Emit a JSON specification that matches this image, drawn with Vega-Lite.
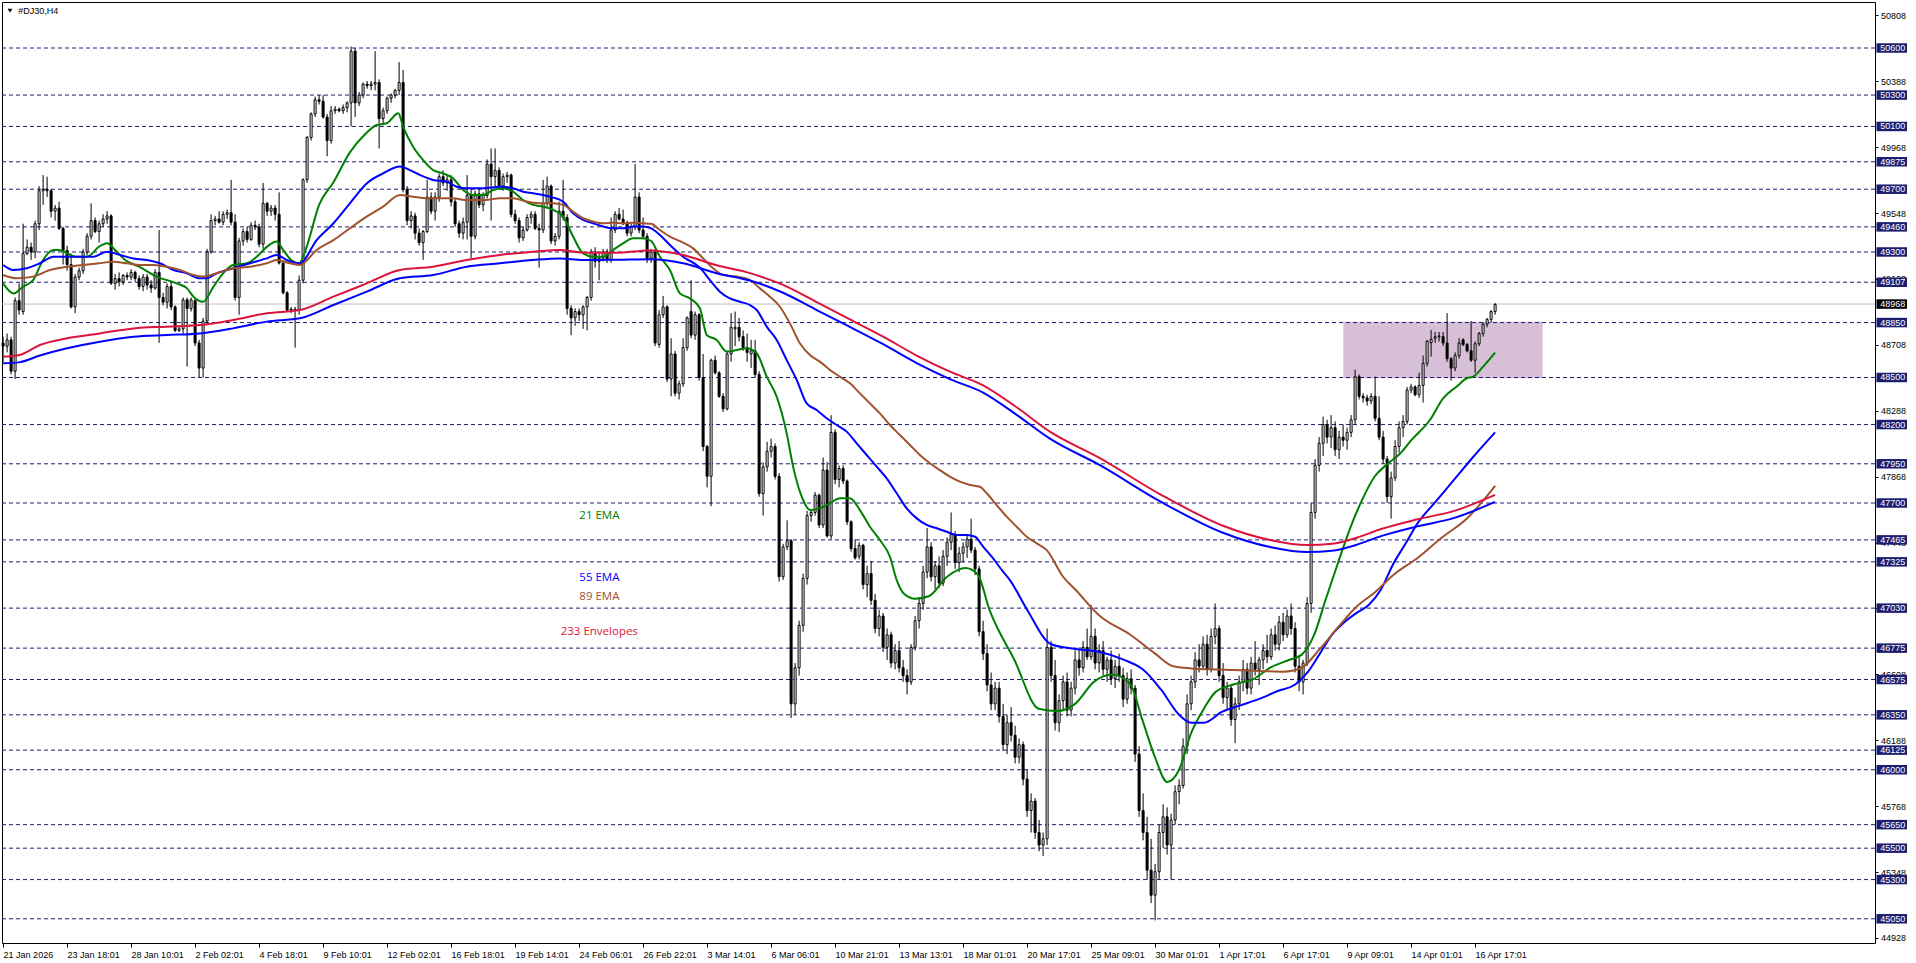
{
"$schema": "https://vega.github.io/schema/vega-lite/v6.json",
"autosize": {"type": "none"},
"padding": {"left": 2, "top": 2, "right": 41, "bottom": 20},
"width": 1873,
"height": 941,
"background": "white",
"config": {"view": {"stroke": "black", "strokeWidth": 1}, "font": "Liberation Sans"},
"datasets": {
"candles": [
{"i":0,"o":48720,"h":48760,"l":48600,"c":48700},{"i":1,"o":48700,"h":48780,"l":48660,"c":48740},{"i":2,"o":48740,"h":48760,"l":48520,"c":48540},{"i":3,"o":48540,"h":49010,"l":48490,"c":48990},{"i":4,"o":48990,"h":49100,"l":48900,"c":48930},{"i":5,"o":48920,"h":49480,"l":48900,"c":49290},{"i":6,"o":49290,"h":49380,"l":49280,"c":49330},{"i":7,"o":49330,"h":49360,"l":49250,"c":49300},{"i":8,"o":49300,"h":49500,"l":49260,"c":49480},{"i":9,"o":49480,"h":49720,"l":49440,"c":49690},
{"i":10,"o":49690,"h":49790,"l":49600,"c":49700},{"i":11,"o":49700,"h":49780,"l":49650,"c":49690},{"i":12,"o":49690,"h":49700,"l":49520,"c":49560},{"i":13,"o":49560,"h":49600,"l":49500,"c":49580},{"i":14,"o":49580,"h":49620,"l":49440,"c":49450},{"i":15,"o":49450,"h":49460,"l":49220,"c":49310},{"i":16,"o":49310,"h":49340,"l":49180,"c":49220},{"i":17,"o":49220,"h":49290,"l":48940,"c":48950},{"i":18,"o":48950,"h":49160,"l":48910,"c":49140},{"i":19,"o":49140,"h":49200,"l":49120,"c":49180},
{"i":20,"o":49180,"h":49320,"l":49160,"c":49300},{"i":21,"o":49300,"h":49420,"l":49280,"c":49400},{"i":22,"o":49400,"h":49610,"l":49380,"c":49500},{"i":23,"o":49500,"h":49520,"l":49420,"c":49430},{"i":24,"o":49430,"h":49500,"l":49360,"c":49480},{"i":25,"o":49480,"h":49540,"l":49460,"c":49510},{"i":26,"o":49510,"h":49560,"l":49480,"c":49530},{"i":27,"o":49530,"h":49540,"l":49090,"c":49100},{"i":28,"o":49100,"h":49160,"l":49060,"c":49130},{"i":29,"o":49130,"h":49170,"l":49080,"c":49110},
{"i":30,"o":49110,"h":49160,"l":49090,"c":49150},{"i":31,"o":49150,"h":49170,"l":49120,"c":49140},{"i":32,"o":49140,"h":49190,"l":49120,"c":49170},{"i":33,"o":49170,"h":49180,"l":49110,"c":49130},{"i":34,"o":49130,"h":49150,"l":49060,"c":49080},{"i":35,"o":49080,"h":49160,"l":49050,"c":49140},{"i":36,"o":49140,"h":49160,"l":49060,"c":49090},{"i":37,"o":49090,"h":49120,"l":49040,"c":49070},{"i":38,"o":49070,"h":49190,"l":49060,"c":49170},{"i":39,"o":49170,"h":49440,"l":48720,"c":49010},
{"i":40,"o":49010,"h":49040,"l":48960,"c":48980},{"i":41,"o":48980,"h":49100,"l":48940,"c":49080},{"i":42,"o":49080,"h":49110,"l":48930,"c":48950},{"i":43,"o":48950,"h":48960,"l":48790,"c":48800},{"i":44,"o":48800,"h":48830,"l":48790,"c":48810},{"i":45,"o":48810,"h":49010,"l":48780,"c":48995},{"i":46,"o":48995,"h":49010,"l":48570,"c":48940},{"i":47,"o":48940,"h":49010,"l":48920,"c":48995},{"i":48,"o":48990,"h":49000,"l":48700,"c":48720},{"i":49,"o":48720,"h":48740,"l":48500,"c":48560},
{"i":50,"o":48560,"h":48880,"l":48500,"c":48860},{"i":51,"o":48860,"h":49320,"l":48840,"c":49300},{"i":52,"o":49300,"h":49540,"l":49290,"c":49500},{"i":53,"o":49500,"h":49530,"l":49470,"c":49510},{"i":54,"o":49510,"h":49560,"l":49480,"c":49490},{"i":55,"o":49490,"h":49560,"l":49470,"c":49540},{"i":56,"o":49540,"h":49570,"l":49510,"c":49550},{"i":57,"o":49550,"h":49760,"l":49470,"c":49490},{"i":58,"o":49490,"h":49540,"l":48990,"c":49010},{"i":59,"o":49010,"h":49390,"l":48900,"c":49370},
{"i":60,"o":49370,"h":49450,"l":49340,"c":49430},{"i":61,"o":49430,"h":49460,"l":49360,"c":49380},{"i":62,"o":49380,"h":49490,"l":49370,"c":49470},{"i":63,"o":49470,"h":49500,"l":49440,"c":49460},{"i":64,"o":49460,"h":49480,"l":49330,"c":49350},{"i":65,"o":49350,"h":49740,"l":49320,"c":49610},{"i":66,"o":49610,"h":49620,"l":49530,"c":49560},{"i":67,"o":49560,"h":49600,"l":49530,"c":49580},{"i":68,"o":49580,"h":49600,"l":49500,"c":49540},{"i":69,"o":49540,"h":49680,"l":49220,"c":49230},
{"i":70,"o":49230,"h":49240,"l":49030,"c":49040},{"i":71,"o":49040,"h":49050,"l":48920,"c":48930},{"i":72,"o":48930,"h":48950,"l":48910,"c":48935},{"i":73,"o":48935,"h":48950,"l":48690,"c":48930},{"i":74,"o":48930,"h":49150,"l":48900,"c":49120},{"i":75,"o":49120,"h":49770,"l":49100,"c":49760},{"i":76,"o":49760,"h":50040,"l":49740,"c":50030},{"i":77,"o":50030,"h":50190,"l":50010,"c":50180},{"i":78,"o":50180,"h":50290,"l":50160,"c":50270},{"i":79,"o":50270,"h":50300,"l":50240,"c":50260},
{"i":80,"o":50260,"h":50300,"l":50150,"c":50160},{"i":81,"o":50160,"h":50180,"l":49910,"c":50010},{"i":82,"o":50010,"h":50230,"l":49990,"c":50200},{"i":83,"o":50200,"h":50230,"l":50180,"c":50210},{"i":84,"o":50210,"h":50220,"l":50190,"c":50200},{"i":85,"o":50200,"h":50240,"l":50180,"c":50220},{"i":86,"o":50220,"h":50260,"l":50190,"c":50250},{"i":87,"o":50250,"h":50610,"l":50100,"c":50580},{"i":88,"o":50580,"h":50600,"l":50160,"c":50250},{"i":89,"o":50250,"h":50320,"l":50230,"c":50300},
{"i":90,"o":50300,"h":50380,"l":50280,"c":50370},{"i":91,"o":50370,"h":50390,"l":50340,"c":50360},{"i":92,"o":50360,"h":50390,"l":50330,"c":50370},{"i":93,"o":50370,"h":50580,"l":50330,"c":50380},{"i":94,"o":50380,"h":50400,"l":49960,"c":50150},{"i":95,"o":50150,"h":50220,"l":50120,"c":50200},{"i":96,"o":50200,"h":50290,"l":50180,"c":50280},{"i":97,"o":50280,"h":50310,"l":50250,"c":50300},{"i":98,"o":50300,"h":50340,"l":50280,"c":50330},{"i":99,"o":50330,"h":50510,"l":50300,"c":50380},
{"i":100,"o":50380,"h":50460,"l":49680,"c":49700},{"i":101,"o":49700,"h":49720,"l":49470,"c":49500},{"i":102,"o":49500,"h":49560,"l":49450,"c":49530},{"i":103,"o":49530,"h":49550,"l":49380,"c":49420},{"i":104,"o":49420,"h":49450,"l":49340,"c":49360},{"i":105,"o":49360,"h":49440,"l":49250,"c":49430},{"i":106,"o":49430,"h":49760,"l":49420,"c":49650},{"i":107,"o":49650,"h":49680,"l":49540,"c":49560},{"i":108,"o":49560,"h":49680,"l":49500,"c":49650},{"i":109,"o":49650,"h":49800,"l":49620,"c":49780},
{"i":110,"o":49780,"h":49820,"l":49720,"c":49740},{"i":111,"o":49740,"h":49790,"l":49690,"c":49760},{"i":112,"o":49760,"h":49790,"l":49590,"c":49620},{"i":113,"o":49620,"h":49640,"l":49460,"c":49480},{"i":114,"o":49480,"h":49500,"l":49390,"c":49420},{"i":115,"o":49420,"h":49520,"l":49380,"c":49490},{"i":116,"o":49490,"h":49790,"l":49380,"c":49660},{"i":117,"o":49660,"h":49700,"l":49260,"c":49400},{"i":118,"o":49400,"h":49690,"l":49380,"c":49670},{"i":119,"o":49670,"h":49700,"l":49580,"c":49600},
{"i":120,"o":49600,"h":49680,"l":49560,"c":49660},{"i":121,"o":49660,"h":49890,"l":49640,"c":49860},{"i":122,"o":49860,"h":49960,"l":49500,"c":49780},{"i":123,"o":49780,"h":49960,"l":49720,"c":49820},{"i":124,"o":49820,"h":49840,"l":49700,"c":49720},{"i":125,"o":49720,"h":49800,"l":49690,"c":49780},{"i":126,"o":49780,"h":49810,"l":49740,"c":49790},{"i":127,"o":49790,"h":49800,"l":49520,"c":49540},{"i":128,"o":49540,"h":49570,"l":49480,"c":49500},{"i":129,"o":49500,"h":49520,"l":49360,"c":49390},
{"i":130,"o":49390,"h":49460,"l":49370,"c":49440},{"i":131,"o":49440,"h":49540,"l":49430,"c":49520},{"i":132,"o":49520,"h":49560,"l":49480,"c":49540},{"i":133,"o":49540,"h":49560,"l":49440,"c":49450},{"i":134,"o":49450,"h":49480,"l":49200,"c":49440},{"i":135,"o":49440,"h":49760,"l":49420,"c":49610},{"i":136,"o":49610,"h":49780,"l":49590,"c":49720},{"i":137,"o":49720,"h":49730,"l":49350,"c":49370},{"i":138,"o":49370,"h":49420,"l":49340,"c":49400},{"i":139,"o":49400,"h":49620,"l":49380,"c":49560},
{"i":140,"o":49560,"h":49760,"l":49500,"c":49520},{"i":141,"o":49520,"h":49540,"l":48900,"c":48940},{"i":142,"o":48940,"h":48960,"l":48770,"c":48880},{"i":143,"o":48880,"h":48940,"l":48830,"c":48920},{"i":144,"o":48920,"h":48940,"l":48860,"c":48900},{"i":145,"o":48900,"h":48960,"l":48810,"c":48950},{"i":146,"o":48950,"h":49020,"l":48800,"c":49010},{"i":147,"o":49010,"h":49320,"l":48990,"c":49300},{"i":148,"o":49300,"h":49330,"l":49200,"c":49240},{"i":149,"o":49240,"h":49290,"l":49120,"c":49260},
{"i":150,"o":49260,"h":49320,"l":49240,"c":49300},{"i":151,"o":49300,"h":49320,"l":49230,"c":49250},{"i":152,"o":49250,"h":49520,"l":49230,"c":49440},{"i":153,"o":49440,"h":49560,"l":49420,"c":49540},{"i":154,"o":49540,"h":49580,"l":49500,"c":49510},{"i":155,"o":49510,"h":49570,"l":49470,"c":49480},{"i":156,"o":49480,"h":49500,"l":49400,"c":49420},{"i":157,"o":49420,"h":49480,"l":49400,"c":49460},{"i":158,"o":49460,"h":49860,"l":49440,"c":49650},{"i":159,"o":49650,"h":49680,"l":49420,"c":49440},
{"i":160,"o":49440,"h":49520,"l":49380,"c":49400},{"i":161,"o":49400,"h":49420,"l":49230,"c":49260},{"i":162,"o":49260,"h":49320,"l":49230,"c":49300},{"i":163,"o":49300,"h":49320,"l":48700,"c":48720},{"i":164,"o":48710,"h":48930,"l":48690,"c":48900},{"i":165,"o":48900,"h":49020,"l":48880,"c":48950},{"i":166,"o":48950,"h":48960,"l":48470,"c":48490},{"i":167,"o":48490,"h":48750,"l":48380,"c":48650},{"i":168,"o":48650,"h":48670,"l":48380,"c":48400},{"i":169,"o":48400,"h":48480,"l":48360,"c":48460},
{"i":170,"o":48460,"h":48750,"l":48440,"c":48690},{"i":171,"o":48690,"h":48890,"l":48670,"c":48880},{"i":172,"o":48920,"h":49120,"l":48750,"c":48770},{"i":173,"o":48770,"h":48920,"l":48740,"c":48900},{"i":174,"o":48900,"h":48910,"l":48480,"c":48500},{"i":175,"o":48500,"h":48650,"l":48030,"c":48060},{"i":176,"o":48060,"h":48070,"l":47800,"c":47870},{"i":177,"o":47870,"h":48620,"l":47680,"c":48610},{"i":178,"o":48610,"h":48640,"l":48520,"c":48530},{"i":179,"o":48530,"h":48540,"l":48370,"c":48380},
{"i":180,"o":48380,"h":48400,"l":48280,"c":48300},{"i":181,"o":48300,"h":48670,"l":48290,"c":48650},{"i":182,"o":48650,"h":48910,"l":48600,"c":48820},{"i":183,"o":48810,"h":48920,"l":48700,"c":48820},{"i":184,"o":48820,"h":48880,"l":48730,"c":48760},{"i":185,"o":48760,"h":48800,"l":48670,"c":48690},{"i":186,"o":48690,"h":48780,"l":48600,"c":48660},{"i":187,"o":48650,"h":48740,"l":48560,"c":48670},{"i":188,"o":48670,"h":48740,"l":48500,"c":48520},{"i":189,"o":48520,"h":48540,"l":47740,"c":47760},
{"i":190,"o":47760,"h":47960,"l":47620,"c":47930},{"i":191,"o":47930,"h":48090,"l":47900,"c":48030},{"i":192,"o":48030,"h":48110,"l":47990,"c":48060},{"i":193,"o":48060,"h":48080,"l":47850,"c":47870},{"i":194,"o":47870,"h":47890,"l":47200,"c":47230},{"i":195,"o":47230,"h":47440,"l":47210,"c":47420},{"i":196,"o":47420,"h":47590,"l":47400,"c":47460},{"i":197,"o":47460,"h":47470,"l":46330,"c":46420},{"i":198,"o":46420,"h":46680,"l":46350,"c":46650},{"i":199,"o":46650,"h":46950,"l":46600,"c":46920},
{"i":200,"o":46920,"h":47250,"l":46880,"c":47220},{"i":201,"o":47220,"h":47650,"l":47180,"c":47620},{"i":202,"o":47620,"h":47660,"l":47580,"c":47640},{"i":203,"o":47640,"h":47770,"l":47620,"c":47750},{"i":204,"o":47750,"h":47760,"l":47540,"c":47560},{"i":205,"o":47560,"h":47990,"l":47540,"c":47910},{"i":206,"o":47910,"h":47960,"l":47480,"c":47490},{"i":207,"o":47490,"h":48260,"l":47470,"c":48150},{"i":208,"o":48150,"h":48170,"l":47820,"c":47850},{"i":209,"o":47850,"h":47940,"l":47800,"c":47920},
{"i":210,"o":47920,"h":47940,"l":47820,"c":47840},{"i":211,"o":47840,"h":47850,"l":47560,"c":47580},{"i":212,"o":47580,"h":47590,"l":47390,"c":47410},{"i":213,"o":47410,"h":47470,"l":47340,"c":47350},{"i":214,"o":47360,"h":47450,"l":47340,"c":47430},{"i":215,"o":47430,"h":47440,"l":47150,"c":47180},{"i":216,"o":47180,"h":47300,"l":47100,"c":47250},{"i":217,"o":47250,"h":47330,"l":47050,"c":47080},{"i":218,"o":47080,"h":47120,"l":46870,"c":46900},{"i":219,"o":46900,"h":47020,"l":46850,"c":46980},
{"i":220,"o":46980,"h":47000,"l":46750,"c":46780},{"i":221,"o":46780,"h":46900,"l":46700,"c":46860},{"i":222,"o":46860,"h":46880,"l":46650,"c":46680},{"i":223,"o":46680,"h":46800,"l":46640,"c":46760},{"i":224,"o":46760,"h":46820,"l":46620,"c":46650},{"i":225,"o":46650,"h":46700,"l":46560,"c":46600},{"i":226,"o":46600,"h":46640,"l":46480,"c":46560},{"i":227,"o":46560,"h":46800,"l":46540,"c":46780},{"i":228,"o":46780,"h":46980,"l":46760,"c":46950},{"i":229,"o":46950,"h":47100,"l":46900,"c":47060},
{"i":230,"o":47060,"h":47300,"l":47020,"c":47260},{"i":231,"o":47260,"h":47540,"l":47220,"c":47420},{"i":232,"o":47420,"h":47450,"l":47200,"c":47230},{"i":233,"o":47230,"h":47330,"l":47150,"c":47300},{"i":234,"o":47300,"h":47360,"l":47160,"c":47190},{"i":235,"o":47190,"h":47400,"l":47170,"c":47360},{"i":236,"o":47360,"h":47480,"l":47300,"c":47450},{"i":237,"o":47450,"h":47640,"l":47400,"c":47500},{"i":238,"o":47500,"h":47520,"l":47280,"c":47320},{"i":239,"o":47320,"h":47420,"l":47260,"c":47380},
{"i":240,"o":47380,"h":47450,"l":47320,"c":47420},{"i":241,"o":47420,"h":47500,"l":47350,"c":47470},{"i":242,"o":47470,"h":47600,"l":47380,"c":47400},{"i":243,"o":47400,"h":47420,"l":47240,"c":47280},{"i":244,"o":47280,"h":47300,"l":46850,"c":46880},{"i":245,"o":46880,"h":46950,"l":46700,"c":46740},{"i":246,"o":46740,"h":46800,"l":46500,"c":46540},{"i":247,"o":46540,"h":46620,"l":46380,"c":46420},{"i":248,"o":46420,"h":46560,"l":46380,"c":46520},{"i":249,"o":46520,"h":46560,"l":46300,"c":46340},
{"i":250,"o":46340,"h":46420,"l":46120,"c":46160},{"i":251,"o":46160,"h":46350,"l":46100,"c":46300},{"i":252,"o":46300,"h":46400,"l":46180,"c":46220},{"i":253,"o":46220,"h":46280,"l":46040,"c":46080},{"i":254,"o":46080,"h":46200,"l":46040,"c":46160},{"i":255,"o":46160,"h":46180,"l":45900,"c":45940},{"i":256,"o":45940,"h":46000,"l":45700,"c":45740},{"i":257,"o":45740,"h":45850,"l":45600,"c":45800},{"i":258,"o":45800,"h":45820,"l":45560,"c":45600},{"i":259,"o":45600,"h":45680,"l":45480,"c":45520},
{"i":260,"o":45520,"h":45600,"l":45450,"c":45560},{"i":261,"o":45560,"h":46900,"l":45520,"c":46780},{"i":262,"o":46780,"h":46820,"l":46560,"c":46600},{"i":263,"o":46600,"h":46700,"l":46250,"c":46300},{"i":264,"o":46300,"h":46480,"l":46240,"c":46440},{"i":265,"o":46440,"h":46600,"l":46380,"c":46560},{"i":266,"o":46560,"h":46620,"l":46340,"c":46380},{"i":267,"o":46380,"h":46560,"l":46340,"c":46520},{"i":268,"o":46520,"h":46760,"l":46480,"c":46700},{"i":269,"o":46700,"h":46780,"l":46600,"c":46650},
{"i":270,"o":46650,"h":46820,"l":46620,"c":46780},{"i":271,"o":46780,"h":46900,"l":46700,"c":46720},{"i":272,"o":46720,"h":47050,"l":46700,"c":46850},{"i":273,"o":46850,"h":46900,"l":46640,"c":46680},{"i":274,"o":46680,"h":46800,"l":46620,"c":46760},{"i":275,"o":46760,"h":46820,"l":46600,"c":46640},{"i":276,"o":46640,"h":46720,"l":46560,"c":46700},{"i":277,"o":46700,"h":46760,"l":46540,"c":46580},{"i":278,"o":46580,"h":46700,"l":46520,"c":46660},{"i":279,"o":46660,"h":46740,"l":46560,"c":46600},
{"i":280,"o":46600,"h":46650,"l":46400,"c":46450},{"i":281,"o":46450,"h":46620,"l":46420,"c":46580},{"i":282,"o":46580,"h":46640,"l":46480,"c":46520},{"i":283,"o":46520,"h":46540,"l":46050,"c":46100},{"i":284,"o":46100,"h":46150,"l":45700,"c":45740},{"i":285,"o":45740,"h":45850,"l":45550,"c":45600},{"i":286,"o":45600,"h":45700,"l":45300,"c":45360},{"i":287,"o":45360,"h":45560,"l":45150,"c":45200},{"i":288,"o":45200,"h":45400,"l":45040,"c":45350},{"i":289,"o":45350,"h":45650,"l":45300,"c":45600},
{"i":290,"o":45600,"h":45780,"l":45500,"c":45700},{"i":291,"o":45700,"h":45760,"l":45460,"c":45520},{"i":292,"o":45520,"h":45720,"l":45300,"c":45680},{"i":293,"o":45680,"h":45900,"l":45650,"c":45860},{"i":294,"o":45860,"h":45940,"l":45780,"c":45900},{"i":295,"o":45900,"h":46200,"l":45880,"c":46150},{"i":296,"o":46150,"h":46480,"l":46100,"c":46420},{"i":297,"o":46420,"h":46600,"l":46380,"c":46560},{"i":298,"o":46560,"h":46750,"l":46520,"c":46700},{"i":299,"o":46700,"h":46800,"l":46620,"c":46660},
{"i":300,"o":46660,"h":46850,"l":46640,"c":46800},{"i":301,"o":46800,"h":46860,"l":46600,"c":46640},{"i":302,"o":46640,"h":46900,"l":46620,"c":46850},{"i":303,"o":46850,"h":47060,"l":46800,"c":46900},{"i":304,"o":46900,"h":46920,"l":46560,"c":46600},{"i":305,"o":46600,"h":46680,"l":46420,"c":46460},{"i":306,"o":46460,"h":46560,"l":46380,"c":46520},{"i":307,"o":46520,"h":46540,"l":46280,"c":46320},{"i":308,"o":46320,"h":46460,"l":46170,"c":46420},{"i":309,"o":46420,"h":46600,"l":46380,"c":46560},
{"i":310,"o":46560,"h":46700,"l":46500,"c":46640},{"i":311,"o":46640,"h":46680,"l":46480,"c":46520},{"i":312,"o":46520,"h":46720,"l":46480,"c":46680},{"i":313,"o":46680,"h":46820,"l":46600,"c":46640},{"i":314,"o":46640,"h":46720,"l":46540,"c":46700},{"i":315,"o":46700,"h":46800,"l":46640,"c":46760},{"i":316,"o":46760,"h":46860,"l":46680,"c":46720},{"i":317,"o":46720,"h":46900,"l":46700,"c":46860},{"i":318,"o":46860,"h":46920,"l":46760,"c":46800},{"i":319,"o":46800,"h":46980,"l":46760,"c":46940},
{"i":320,"o":46940,"h":47000,"l":46820,"c":46860},{"i":321,"o":46860,"h":47020,"l":46840,"c":46980},{"i":322,"o":46980,"h":47060,"l":46860,"c":46900},{"i":323,"o":46900,"h":46940,"l":46620,"c":46660},{"i":324,"o":46660,"h":46720,"l":46500,"c":46560},{"i":325,"o":46560,"h":46700,"l":46480,"c":46680},{"i":326,"o":46680,"h":47100,"l":46660,"c":47060},{"i":327,"o":47060,"h":47700,"l":47000,"c":47640},{"i":328,"o":47640,"h":47980,"l":47600,"c":47940},{"i":329,"o":47940,"h":48120,"l":47900,"c":48080},
{"i":330,"o":48080,"h":48250,"l":48000,"c":48200},{"i":331,"o":48200,"h":48230,"l":48080,"c":48120},{"i":332,"o":48120,"h":48260,"l":48050,"c":48180},{"i":333,"o":48180,"h":48220,"l":48000,"c":48040},{"i":334,"o":48040,"h":48160,"l":47980,"c":48120},{"i":335,"o":48120,"h":48200,"l":48060,"c":48100},{"i":336,"o":48100,"h":48180,"l":48040,"c":48150},{"i":337,"o":48150,"h":48260,"l":48120,"c":48230},{"i":338,"o":48230,"h":48550,"l":48200,"c":48505},{"i":339,"o":48505,"h":48520,"l":48360,"c":48380},
{"i":340,"o":48380,"h":48400,"l":48340,"c":48370},{"i":341,"o":48370,"h":48390,"l":48320,"c":48350},{"i":342,"o":48350,"h":48400,"l":48330,"c":48380},{"i":343,"o":48380,"h":48505,"l":48220,"c":48240},{"i":344,"o":48240,"h":48380,"l":48100,"c":48120},{"i":345,"o":48120,"h":48160,"l":47950,"c":47980},{"i":346,"o":47980,"h":48000,"l":47700,"c":47740},{"i":347,"o":47740,"h":47900,"l":47600,"c":47860},{"i":348,"o":47860,"h":48100,"l":47840,"c":48060},{"i":349,"o":48060,"h":48220,"l":48020,"c":48180},
{"i":350,"o":48180,"h":48260,"l":48120,"c":48220},{"i":351,"o":48220,"h":48440,"l":48200,"c":48420},{"i":352,"o":48420,"h":48460,"l":48400,"c":48440},{"i":353,"o":48440,"h":48450,"l":48380,"c":48390},{"i":354,"o":48390,"h":48530,"l":48370,"c":48450},{"i":355,"o":48450,"h":48640,"l":48340,"c":48590},{"i":356,"o":48590,"h":48740,"l":48570,"c":48730},{"i":357,"o":48722,"h":48803,"l":48633,"c":48743},{"i":358,"o":48750,"h":48790,"l":48720,"c":48760},{"i":359,"o":48760,"h":48790,"l":48730,"c":48765},
{"i":360,"o":48760,"h":48790,"l":48700,"c":48720},{"i":361,"o":48720,"h":48910,"l":48600,"c":48620},{"i":362,"o":48620,"h":48630,"l":48480,"c":48560},{"i":363,"o":48560,"h":48660,"l":48540,"c":48640},{"i":364,"o":48640,"h":48750,"l":48620,"c":48720},{"i":365,"o":48740,"h":48750,"l":48700,"c":48710},{"i":366,"o":48710,"h":48720,"l":48660,"c":48670},{"i":367,"o":48670,"h":48860,"l":48600,"c":48610},{"i":368,"o":48610,"h":48730,"l":48530,"c":48715},{"i":369,"o":48715,"h":48790,"l":48700,"c":48780},
{"i":370,"o":48780,"h":48850,"l":48760,"c":48840},{"i":371,"o":48840,"h":48880,"l":48820,"c":48870},{"i":372,"o":48870,"h":48930,"l":48850,"c":48920},{"i":373,"o":48920,"h":48975,"l":48900,"c":48965}
],
"ema": [
{"s":"g","i":0,"v":49100},{"s":"g","i":2.6,"v":49036},{"s":"g","i":5,"v":49079},{"s":"g","i":7.5,"v":49120},{"s":"g","i":10,"v":49249},{"s":"g","i":12.5,"v":49313},{"s":"g","i":14,"v":49313},{"s":"g","i":16,"v":49292},{"s":"g","i":18,"v":49270},{"s":"g","i":21,"v":49270},{"s":"g","i":24,"v":49334},{"s":"g","i":26,"v":49355},{"s":"g","i":28,"v":49313},{"s":"g","i":30.5,"v":49249},{"s":"g","i":34,"v":49206},{"s":"g","i":38.4,"v":49143},{"s":"g","i":43.4,"v":49100},{"s":"g","i":46,"v":49068},{"s":"g","i":47.6,"v":49015},{"s":"g","i":50,"v":48983},{"s":"g","i":52.6,"v":49079},{"s":"g","i":55,"v":49164},{"s":"g","i":57.5,"v":49217},{"s":"g","i":61,"v":49228},{"s":"g","i":63.4,"v":49270},{"s":"g","i":66,"v":49334},{"s":"g","i":68.4,"v":49366},{"s":"g","i":70,"v":49313},{"s":"g","i":72,"v":49249},{"s":"g","i":74,"v":49228},{"s":"g","i":75.9,"v":49334},{"s":"g","i":79,"v":49600},{"s":"g","i":82.6,"v":49745},{"s":"g","i":86.7,"v":49935},{"s":"g","i":90.5,"v":50050},{"s":"g","i":93.4,"v":50109},{"s":"g","i":95.9,"v":50120},{"s":"g","i":98.8,"v":50184},{"s":"g","i":100,"v":50099},{"s":"g","i":102.5,"v":49971},{"s":"g","i":105,"v":49886},{"s":"g","i":107.5,"v":49822},{"s":"g","i":110,"v":49801},{"s":"g","i":112.5,"v":49769},{"s":"g","i":115,"v":49695},{"s":"g","i":117.5,"v":49663},{"s":"g","i":120,"v":49663},{"s":"g","i":122.5,"v":49695},{"s":"g","i":125,"v":49706},{"s":"g","i":127.5,"v":49684},{"s":"g","i":130,"v":49631},{"s":"g","i":132.5,"v":49600},{"s":"g","i":135,"v":49589},{"s":"g","i":137.5,"v":49568},{"s":"g","i":140,"v":49525},{"s":"g","i":142.5,"v":49398},{"s":"g","i":145,"v":49291},{"s":"g","i":147.5,"v":49270},{"s":"g","i":150,"v":49270},{"s":"g","i":152.5,"v":49313},{"s":"g","i":155,"v":49355},{"s":"g","i":157.5,"v":49387},{"s":"g","i":160,"v":49387},{"s":"g","i":162,"v":49370},{"s":"g","i":164.2,"v":49270},{"s":"g","i":166.7,"v":49185},{"s":"g","i":169.2,"v":49036},{"s":"g","i":171.7,"v":49004},{"s":"g","i":174.2,"v":48941},{"s":"g","i":175.9,"v":48771},{"s":"g","i":178.4,"v":48739},{"s":"g","i":180.9,"v":48665},{"s":"g","i":183.4,"v":48675},{"s":"g","i":185.9,"v":48686},{"s":"g","i":188.4,"v":48654},{"s":"g","i":190.9,"v":48505},{"s":"g","i":193.4,"v":48378},{"s":"g","i":195.9,"v":48144},{"s":"g","i":197.5,"v":47932},{"s":"g","i":200,"v":47719},{"s":"g","i":201.7,"v":47655},{"s":"g","i":204.2,"v":47666},{"s":"g","i":206.7,"v":47698},{"s":"g","i":209.2,"v":47730},{"s":"g","i":211.7,"v":47730},{"s":"g","i":214.2,"v":47655},{"s":"g","i":216.7,"v":47549},{"s":"g","i":219.2,"v":47464},{"s":"g","i":221.7,"v":47358},{"s":"g","i":223.4,"v":47209},{"s":"g","i":225.3,"v":47120},{"s":"g","i":228,"v":47090},{"s":"g","i":231.4,"v":47106},{"s":"g","i":236,"v":47230},{"s":"g","i":240.6,"v":47285},{"s":"g","i":243.6,"v":47246},{"s":"g","i":246.7,"v":47012},{"s":"g","i":252.8,"v":46701},{"s":"g","i":258.9,"v":46389},{"s":"g","i":263.5,"v":46374},{"s":"g","i":268,"v":46420},{"s":"g","i":272.7,"v":46560},{"s":"g","i":277.3,"v":46607},{"s":"g","i":281.8,"v":46545},{"s":"g","i":284.9,"v":46311},{"s":"g","i":288,"v":46078},{"s":"g","i":291,"v":45922},{"s":"g","i":294,"v":46000},{"s":"g","i":297,"v":46233},{"s":"g","i":300.2,"v":46389},{"s":"g","i":303.2,"v":46498},{"s":"g","i":307.8,"v":46545},{"s":"g","i":312.4,"v":46576},{"s":"g","i":317,"v":46654},{"s":"g","i":321.6,"v":46701},{"s":"g","i":324.6,"v":46732},{"s":"g","i":327.7,"v":46856},{"s":"g","i":330.7,"v":47090},{"s":"g","i":333.8,"v":47324},{"s":"g","i":336.8,"v":47542},{"s":"g","i":339.9,"v":47728},{"s":"g","i":342.9,"v":47869},{"s":"g","i":346,"v":47947},{"s":"g","i":349,"v":48009},{"s":"g","i":352.1,"v":48102},{"s":"g","i":356.7,"v":48229},{"s":"g","i":360,"v":48367},{"s":"g","i":363.4,"v":48442},{"s":"g","i":365.9,"v":48495},{"s":"g","i":367.5,"v":48505},{"s":"g","i":370,"v":48569},{"s":"g","i":373,"v":48658},
{"s":"b","i":0,"v":49217},{"s":"b","i":2.6,"v":49185},{"s":"b","i":5.9,"v":49196},{"s":"b","i":9.2,"v":49228},{"s":"b","i":12.6,"v":49270},{"s":"b","i":16,"v":49270},{"s":"b","i":19.2,"v":49270},{"s":"b","i":22.6,"v":49270},{"s":"b","i":26,"v":49302},{"s":"b","i":29.2,"v":49281},{"s":"b","i":32.6,"v":49259},{"s":"b","i":35.9,"v":49249},{"s":"b","i":39.2,"v":49228},{"s":"b","i":42.6,"v":49185},{"s":"b","i":45.9,"v":49164},{"s":"b","i":49.2,"v":49132},{"s":"b","i":50.9,"v":49132},{"s":"b","i":53.4,"v":49164},{"s":"b","i":57.5,"v":49196},{"s":"b","i":61.7,"v":49228},{"s":"b","i":65.9,"v":49259},{"s":"b","i":68.4,"v":49281},{"s":"b","i":70.9,"v":49249},{"s":"b","i":74.2,"v":49228},{"s":"b","i":78.4,"v":49376},{"s":"b","i":82.6,"v":49483},{"s":"b","i":86.7,"v":49610},{"s":"b","i":90.9,"v":49737},{"s":"b","i":95,"v":49801},{"s":"b","i":99.2,"v":49844},{"s":"b","i":101.7,"v":49822},{"s":"b","i":104.2,"v":49791},{"s":"b","i":107.5,"v":49759},{"s":"b","i":110.9,"v":49748},{"s":"b","i":113.4,"v":49716},{"s":"b","i":115.9,"v":49706},{"s":"b","i":120,"v":49706},{"s":"b","i":124.2,"v":49716},{"s":"b","i":127.5,"v":49706},{"s":"b","i":130,"v":49684},{"s":"b","i":132.5,"v":49674},{"s":"b","i":136.7,"v":49652},{"s":"b","i":140,"v":49621},{"s":"b","i":142.5,"v":49546},{"s":"b","i":145,"v":49504},{"s":"b","i":147.5,"v":49483},{"s":"b","i":150,"v":49462},{"s":"b","i":152.5,"v":49451},{"s":"b","i":155,"v":49451},{"s":"b","i":157.5,"v":49462},{"s":"b","i":160,"v":49462},{"s":"b","i":162,"v":49450},{"s":"b","i":164.2,"v":49408},{"s":"b","i":166.7,"v":49345},{"s":"b","i":170,"v":49270},{"s":"b","i":174.2,"v":49200},{"s":"b","i":176.7,"v":49121},{"s":"b","i":179.2,"v":49047},{"s":"b","i":181.7,"v":49004},{"s":"b","i":184.2,"v":48983},{"s":"b","i":186.7,"v":48962},{"s":"b","i":188.4,"v":48930},{"s":"b","i":190.9,"v":48824},{"s":"b","i":193.4,"v":48739},{"s":"b","i":195.9,"v":48611},{"s":"b","i":198.4,"v":48484},{"s":"b","i":200.9,"v":48335},{"s":"b","i":203.4,"v":48293},{"s":"b","i":205.9,"v":48240},{"s":"b","i":208.4,"v":48197},{"s":"b","i":210.9,"v":48155},{"s":"b","i":213.4,"v":48080},{"s":"b","i":215.9,"v":48006},{"s":"b","i":218.4,"v":47932},{"s":"b","i":220.9,"v":47857},{"s":"b","i":223.4,"v":47762},{"s":"b","i":225.9,"v":47666},{"s":"b","i":228.4,"v":47602},{"s":"b","i":230.9,"v":47560},{"s":"b","i":233.4,"v":47539},{"s":"b","i":235.9,"v":47517},{"s":"b","i":238.4,"v":47496},{"s":"b","i":240.9,"v":47496},{"s":"b","i":243,"v":47485},{"s":"b","i":245,"v":47422},{"s":"b","i":247.5,"v":47347},{"s":"b","i":250,"v":47262},{"s":"b","i":251.7,"v":47209},{"s":"b","i":256,"v":47020},{"s":"b","i":262,"v":46800},{"s":"b","i":268,"v":46770},{"s":"b","i":274.2,"v":46750},{"s":"b","i":280.3,"v":46700},{"s":"b","i":284.9,"v":46640},{"s":"b","i":289.5,"v":46510},{"s":"b","i":294,"v":46350},{"s":"b","i":297,"v":46300},{"s":"b","i":300.2,"v":46300},{"s":"b","i":304.8,"v":46370},{"s":"b","i":309.3,"v":46410},{"s":"b","i":313.9,"v":46450},{"s":"b","i":318.5,"v":46500},{"s":"b","i":323.1,"v":46545},{"s":"b","i":326.1,"v":46620},{"s":"b","i":329.2,"v":46740},{"s":"b","i":332.2,"v":46860},{"s":"b","i":335.3,"v":46940},{"s":"b","i":338.4,"v":47000},{"s":"b","i":341.4,"v":47050},{"s":"b","i":344.5,"v":47150},{"s":"b","i":347.5,"v":47310},{"s":"b","i":350.6,"v":47440},{"s":"b","i":353.6,"v":47570},{"s":"b","i":358.2,"v":47710},{"s":"b","i":362.8,"v":47850},{"s":"b","i":367.4,"v":47990},{"s":"b","i":373,"v":48150},
{"s":"br","i":0,"v":49153},{"s":"br","i":3.4,"v":49132},{"s":"br","i":7.5,"v":49143},{"s":"br","i":11.7,"v":49185},{"s":"br","i":16,"v":49206},{"s":"br","i":20,"v":49217},{"s":"br","i":24,"v":49228},{"s":"br","i":27.6,"v":49238},{"s":"br","i":30.9,"v":49228},{"s":"br","i":34.2,"v":49217},{"s":"br","i":37.6,"v":49217},{"s":"br","i":40.9,"v":49206},{"s":"br","i":44.2,"v":49185},{"s":"br","i":47.6,"v":49153},{"s":"br","i":50,"v":49143},{"s":"br","i":53.4,"v":49164},{"s":"br","i":57.5,"v":49196},{"s":"br","i":61.7,"v":49206},{"s":"br","i":65.9,"v":49228},{"s":"br","i":68.4,"v":49249},{"s":"br","i":71.7,"v":49228},{"s":"br","i":74.2,"v":49217},{"s":"br","i":78.4,"v":49313},{"s":"br","i":82.6,"v":49376},{"s":"br","i":86.7,"v":49451},{"s":"br","i":90.9,"v":49525},{"s":"br","i":95,"v":49589},{"s":"br","i":99.2,"v":49663},{"s":"br","i":102.5,"v":49652},{"s":"br","i":105.9,"v":49642},{"s":"br","i":109.2,"v":49642},{"s":"br","i":112.5,"v":49642},{"s":"br","i":115.9,"v":49631},{"s":"br","i":120,"v":49631},{"s":"br","i":124.2,"v":49642},{"s":"br","i":127.5,"v":49642},{"s":"br","i":130.9,"v":49621},{"s":"br","i":134.2,"v":49610},{"s":"br","i":137.5,"v":49610},{"s":"br","i":140,"v":49600},{"s":"br","i":142.5,"v":49557},{"s":"br","i":145,"v":49515},{"s":"br","i":147.5,"v":49494},{"s":"br","i":150,"v":49483},{"s":"br","i":152.5,"v":49487},{"s":"br","i":155,"v":49483},{"s":"br","i":157.5,"v":49487},{"s":"br","i":160,"v":49483},{"s":"br","i":162,"v":49480},{"s":"br","i":164.2,"v":49440},{"s":"br","i":166.7,"v":49398},{"s":"br","i":170,"v":49360},{"s":"br","i":172.5,"v":49323},{"s":"br","i":175,"v":49259},{"s":"br","i":177.5,"v":49196},{"s":"br","i":180,"v":49153},{"s":"br","i":183.4,"v":49143},{"s":"br","i":186.7,"v":49121},{"s":"br","i":189.2,"v":49068},{"s":"br","i":191.7,"v":49015},{"s":"br","i":194.2,"v":48951},{"s":"br","i":196.7,"v":48845},{"s":"br","i":199.2,"v":48718},{"s":"br","i":201.7,"v":48643},{"s":"br","i":204.2,"v":48601},{"s":"br","i":206.7,"v":48548},{"s":"br","i":209.2,"v":48505},{"s":"br","i":211.7,"v":48463},{"s":"br","i":214.2,"v":48399},{"s":"br","i":216.7,"v":48335},{"s":"br","i":219.2,"v":48271},{"s":"br","i":221.7,"v":48197},{"s":"br","i":224.2,"v":48133},{"s":"br","i":226.7,"v":48070},{"s":"br","i":229.2,"v":48006},{"s":"br","i":231.7,"v":47953},{"s":"br","i":234.2,"v":47910},{"s":"br","i":236.7,"v":47868},{"s":"br","i":239.2,"v":47836},{"s":"br","i":241.7,"v":47815},{"s":"br","i":244.2,"v":47804},{"s":"br","i":245.9,"v":47762},{"s":"br","i":248.4,"v":47687},{"s":"br","i":250.9,"v":47613},{"s":"br","i":253.4,"v":47549},{"s":"br","i":255.9,"v":47485},{"s":"br","i":258.4,"v":47443},{"s":"br","i":260.9,"v":47400},{"s":"br","i":265,"v":47230},{"s":"br","i":268,"v":47150},{"s":"br","i":274.2,"v":46980},{"s":"br","i":281.8,"v":46860},{"s":"br","i":288,"v":46740},{"s":"br","i":292.5,"v":46660},{"s":"br","i":297,"v":46646},{"s":"br","i":301.7,"v":46640},{"s":"br","i":307.8,"v":46635},{"s":"br","i":313.9,"v":46630},{"s":"br","i":320,"v":46625},{"s":"br","i":324.6,"v":46650},{"s":"br","i":329.2,"v":46770},{"s":"br","i":333.8,"v":46910},{"s":"br","i":338.4,"v":47040},{"s":"br","i":342.9,"v":47130},{"s":"br","i":347.5,"v":47240},{"s":"br","i":353.6,"v":47350},{"s":"br","i":359.7,"v":47480},{"s":"br","i":365.9,"v":47600},{"s":"br","i":373,"v":47810},
{"s":"ru","i":0,"v":48633},{"s":"ru","i":4.2,"v":48644},{"s":"ru","i":9.2,"v":48707},{"s":"ru","i":16,"v":48750},{"s":"ru","i":24.2,"v":48781},{"s":"ru","i":32.6,"v":48813},{"s":"ru","i":40.9,"v":48824},{"s":"ru","i":49.2,"v":48834},{"s":"ru","i":57.5,"v":48866},{"s":"ru","i":65.9,"v":48909},{"s":"ru","i":74.2,"v":48930},{"s":"ru","i":82.6,"v":49015},{"s":"ru","i":90.9,"v":49100},{"s":"ru","i":99.2,"v":49185},{"s":"ru","i":107.5,"v":49206},{"s":"ru","i":115.9,"v":49249},{"s":"ru","i":124.2,"v":49281},{"s":"ru","i":132.5,"v":49302},{"s":"ru","i":139.2,"v":49313},{"s":"ru","i":145,"v":49295},{"s":"ru","i":153.4,"v":49295},{"s":"ru","i":161.7,"v":49310},{"s":"ru","i":170,"v":49281},{"s":"ru","i":178.4,"v":49215},{"s":"ru","i":186.7,"v":49165},{"s":"ru","i":195,"v":49090},{"s":"ru","i":203.4,"v":48980},{"s":"ru","i":211.7,"v":48870},{"s":"ru","i":220,"v":48760},{"s":"ru","i":228.4,"v":48640},{"s":"ru","i":236.7,"v":48537},{"s":"ru","i":245,"v":48450},{"s":"ru","i":253.4,"v":48310},{"s":"ru","i":261.7,"v":48155},{"s":"ru","i":274.2,"v":47986},{"s":"ru","i":289.5,"v":47752},{"s":"ru","i":304.8,"v":47557},{"s":"ru","i":317,"v":47463},{"s":"ru","i":326.1,"v":47432},{"s":"ru","i":332.2,"v":47440},{"s":"ru","i":338.4,"v":47479},{"s":"ru","i":344.5,"v":47534},{"s":"ru","i":353.6,"v":47596},{"s":"ru","i":362.8,"v":47650},{"s":"ru","i":373,"v":47752},
{"s":"rl","i":0,"v":48590},{"s":"rl","i":4.2,"v":48598},{"s":"rl","i":9.2,"v":48640},{"s":"rl","i":16,"v":48686},{"s":"rl","i":24.2,"v":48728},{"s":"rl","i":32.6,"v":48760},{"s":"rl","i":40.9,"v":48771},{"s":"rl","i":49.2,"v":48781},{"s":"rl","i":57.5,"v":48813},{"s":"rl","i":65.9,"v":48856},{"s":"rl","i":74.2,"v":48877},{"s":"rl","i":82.6,"v":48962},{"s":"rl","i":90.9,"v":49047},{"s":"rl","i":99.2,"v":49132},{"s":"rl","i":107.5,"v":49153},{"s":"rl","i":115.9,"v":49206},{"s":"rl","i":124.2,"v":49228},{"s":"rl","i":132.5,"v":49249},{"s":"rl","i":139.2,"v":49259},{"s":"rl","i":145,"v":49249},{"s":"rl","i":153.4,"v":49250},{"s":"rl","i":161.7,"v":49253},{"s":"rl","i":170,"v":49228},{"s":"rl","i":178.4,"v":49164},{"s":"rl","i":186.7,"v":49118},{"s":"rl","i":195,"v":49040},{"s":"rl","i":203.4,"v":48930},{"s":"rl","i":211.7,"v":48822},{"s":"rl","i":220,"v":48712},{"s":"rl","i":228.4,"v":48592},{"s":"rl","i":236.7,"v":48490},{"s":"rl","i":245,"v":48404},{"s":"rl","i":253.4,"v":48262},{"s":"rl","i":261.7,"v":48110},{"s":"rl","i":274.2,"v":47941},{"s":"rl","i":289.5,"v":47707},{"s":"rl","i":304.8,"v":47512},{"s":"rl","i":317,"v":47418},{"s":"rl","i":326.1,"v":47387},{"s":"rl","i":332.2,"v":47395},{"s":"rl","i":338.4,"v":47434},{"s":"rl","i":344.5,"v":47489},{"s":"rl","i":353.6,"v":47551},{"s":"rl","i":362.8,"v":47605},{"s":"rl","i":373,"v":47707}
],
"levels": [{"p":50600},{"p":50300},{"p":50100},{"p":49875},{"p":49700},{"p":49460},{"p":49300},{"p":49107},{"p":48850},{"p":48500},{"p":48200},{"p":47950},{"p":47700},{"p":47465},{"p":47325},{"p":47030},{"p":46775},{"p":46575},{"p":46350},{"p":46125},{"p":46000},{"p":45650},{"p":45500},{"p":45300},{"p":45050}],
"last": [{"p":48968}],
"notes": [{"t":"21 EMA","i":144.05,"p":47617,"k":"g"},{"t":"55 EMA","i":144.05,"p":47222,"k":"b"},{"t":"89 EMA","i":144.05,"p":47104,"k":"br"},{"t":"233 Envelopes","i":139.4,"p":46878,"k":"ru"}],
"title": [{"t":"#DJ30,H4"}]
},
"layer": [
{"data": {"name": "candles"}, "mark": {"type": "rule", "color": "black", "strokeWidth": 1, "opacity": 0},
 "encoding": {
  "x": {"field": "i", "type": "quantitative", "scale": {"domain": [-0.275, 467.975], "nice": false, "zero": false, "padding": 0},
   "axis": {"values": [0,16,32,48,64,80,96,112,128,144,160,176,192,208,224,240,256,272,288,304,320,336,352,368],
    "labelExpr": "['21 Jan 2026','23 Jan 18:01','28 Jan 10:01','2 Feb 02:01','4 Feb 18:01','9 Feb 10:01','12 Feb 02:01','16 Feb 18:01','19 Feb 14:01','24 Feb 06:01','26 Feb 22:01','3 Mar 14:01','6 Mar 06:01','10 Mar 21:01','13 Mar 13:01','18 Mar 01:01','20 Mar 17:01','25 Mar 09:01','30 Mar 01:01','1 Apr 17:01','6 Apr 17:01','9 Apr 09:01','14 Apr 01:01','16 Apr 17:01'][round(datum.value/16)]",
    "title": null, "grid": false, "domain": false, "ticks": true, "tickSize": 4, "tickColor": "black", "labelAlign": "left", "labelBaseline": "top", "labelPadding": 3, "labelFont": "Liberation Sans", "labelFontSize": 9, "labelColor": "black", "labelFlush": false, "labelOverlap": false, "labelBound": false}},
  "y": {"field": "l", "type": "quantitative", "scale": {"domain": [44895.7, 50893.2], "nice": false, "zero": false, "padding": 0},
   "axis": {"orient": "right", "values": [44928,45138,45348,45558,45768,45978,46188,46398,46608,46818,47028,47238,47448,47658,47868,48078,48288,48498,48708,48918,49128,49338,49548,49758,49968,50178,50388,50598,50808],
    "format": "d", "title": null, "grid": false, "domain": false, "ticks": true, "tickSize": 3, "tickColor": "black", "labelAlign": "left", "labelBaseline": "middle", "labelPadding": 2.5, "labelFont": "Liberation Sans", "labelFontSize": 9, "labelColor": "black", "labelOverlap": false, "labelBound": false, "labelFlush": false}},
  "y2": {"field": "h"}}},
{"data": {"name": "title"}, "mark": {"type": "rect", "color": "#D8BFD8"},
 "encoding": {
  "x": {"datum": 335.05, "type": "quantitative", "scale": {"domain": [-0.275, 467.975], "nice": false, "zero": false, "padding": 0}},
  "x2": {"datum": 384.9},
  "y": {"datum": 48495, "type": "quantitative", "scale": {"domain": [44895.7, 50893.2], "nice": false, "zero": false, "padding": 0}},
  "y2": {"datum": 48855}}},
{"data": {"name": "levels"}, "mark": {"type": "rule", "color": "#1E1E6E", "strokeDash": [4, 3], "strokeWidth": 1},
 "encoding": {"y": {"field": "p", "type": "quantitative", "scale": {"domain": [44895.7, 50893.2], "nice": false, "zero": false, "padding": 0}}}},
{"data": {"name": "last"}, "mark": {"type": "rule", "color": "#C0C0C0", "strokeWidth": 1},
 "encoding": {"y": {"field": "p", "type": "quantitative", "scale": {"domain": [44895.7, 50893.2], "nice": false, "zero": false, "padding": 0}}}},
{"data": {"name": "candles"}, "mark": {"type": "rule", "color": "black", "strokeWidth": 1},
 "encoding": {
  "x": {"field": "i", "type": "quantitative", "scale": {"domain": [-0.275, 467.975], "nice": false, "zero": false, "padding": 0}},
  "y": {"field": "l", "type": "quantitative", "scale": {"domain": [44895.7, 50893.2], "nice": false, "zero": false, "padding": 0}},
  "y2": {"field": "h"}}},
{"data": {"name": "candles"}, "mark": {"type": "bar", "orient": "vertical", "size": 2, "stroke": "black", "strokeWidth": 1},
 "encoding": {
  "x": {"field": "i", "type": "quantitative", "scale": {"domain": [-0.275, 467.975], "nice": false, "zero": false, "padding": 0}},
  "y": {"field": "o", "type": "quantitative", "scale": {"domain": [44895.7, 50893.2], "nice": false, "zero": false, "padding": 0}},
  "y2": {"field": "c"},
  "fill": {"condition": {"test": "datum.c >= datum.o", "value": "white"}, "value": "black"}}},
{"data": {"name": "ema"}, "mark": {"type": "line", "strokeWidth": 2, "interpolate": "monotone"},
 "encoding": {
  "x": {"field": "i", "type": "quantitative", "scale": {"domain": [-0.275, 467.975], "nice": false, "zero": false, "padding": 0}},
  "y": {"field": "v", "type": "quantitative", "scale": {"domain": [44895.7, 50893.2], "nice": false, "zero": false, "padding": 0}},
  "color": {"field": "s", "type": "nominal", "scale": {"domain": ["ru", "rl", "br", "b", "g"], "range": ["#DC143C", "#0000FF", "#A0522D", "#0000FF", "#008000"]}, "legend": null}}},
{"data": {"name": "notes"}, "mark": {"type": "text", "align": "left", "baseline": "middle", "font": "Open Sans", "fontSize": 11.5},
 "encoding": {
  "x": {"field": "i", "type": "quantitative", "scale": {"domain": [-0.275, 467.975], "nice": false, "zero": false, "padding": 0}},
  "y": {"field": "p", "type": "quantitative", "scale": {"domain": [44895.7, 50893.2], "nice": false, "zero": false, "padding": 0}},
  "text": {"field": "t"},
  "color": {"field": "k", "type": "nominal", "scale": {"domain": ["ru", "rl", "br", "b", "g"], "range": ["#DC143C", "#0000FF", "#A0522D", "#0000FF", "#008000"]}, "legend": null}}},
{"data": {"name": "levels"}, "mark": {"type": "tick", "orient": "horizontal", "size": 30.5, "thickness": 9.5, "color": "#1E1E6E", "opacity": 1},
 "encoding": {
  "x": {"datum": 472.16, "type": "quantitative", "scale": {"domain": [-0.275, 467.975], "nice": false, "zero": false, "padding": 0}},
  "y": {"field": "p", "type": "quantitative", "scale": {"domain": [44895.7, 50893.2], "nice": false, "zero": false, "padding": 0}}}},
{"data": {"name": "levels"}, "mark": {"type": "text", "align": "left", "baseline": "middle", "font": "Liberation Sans", "fontSize": 9, "color": "white"},
 "encoding": {
  "x": {"datum": 469.3, "type": "quantitative", "scale": {"domain": [-0.275, 467.975], "nice": false, "zero": false, "padding": 0}},
  "y": {"field": "p", "type": "quantitative", "scale": {"domain": [44895.7, 50893.2], "nice": false, "zero": false, "padding": 0}},
  "text": {"field": "p", "type": "quantitative", "format": "d"}}},
{"data": {"name": "last"}, "mark": {"type": "tick", "orient": "horizontal", "size": 30.5, "thickness": 9.5, "color": "black", "opacity": 1},
 "encoding": {
  "x": {"datum": 472.16, "type": "quantitative", "scale": {"domain": [-0.275, 467.975], "nice": false, "zero": false, "padding": 0}},
  "y": {"field": "p", "type": "quantitative", "scale": {"domain": [44895.7, 50893.2], "nice": false, "zero": false, "padding": 0}}}},
{"data": {"name": "last"}, "mark": {"type": "text", "align": "left", "baseline": "middle", "font": "Liberation Sans", "fontSize": 9, "color": "white"},
 "encoding": {
  "x": {"datum": 469.3, "type": "quantitative", "scale": {"domain": [-0.275, 467.975], "nice": false, "zero": false, "padding": 0}},
  "y": {"field": "p", "type": "quantitative", "scale": {"domain": [44895.7, 50893.2], "nice": false, "zero": false, "padding": 0}},
  "text": {"field": "p", "type": "quantitative", "format": "d"}}},
{"data": {"name": "title"}, "mark": {"type": "point", "shape": "triangle-down", "filled": true, "color": "black", "size": 22, "opacity": 1},
 "encoding": {
  "x": {"datum": 1.725, "type": "quantitative", "scale": {"domain": [-0.275, 467.975], "nice": false, "zero": false, "padding": 0}},
  "y": {"datum": 50838, "type": "quantitative", "scale": {"domain": [44895.7, 50893.2], "nice": false, "zero": false, "padding": 0}}}},
{"data": {"name": "title"}, "mark": {"type": "text", "align": "left", "baseline": "middle", "font": "Liberation Sans", "fontSize": 9, "color": "black"},
 "encoding": {
  "x": {"datum": 3.8, "type": "quantitative", "scale": {"domain": [-0.275, 467.975], "nice": false, "zero": false, "padding": 0}},
  "y": {"datum": 50838, "type": "quantitative", "scale": {"domain": [44895.7, 50893.2], "nice": false, "zero": false, "padding": 0}},
  "text": {"field": "t"}}}
]
}
